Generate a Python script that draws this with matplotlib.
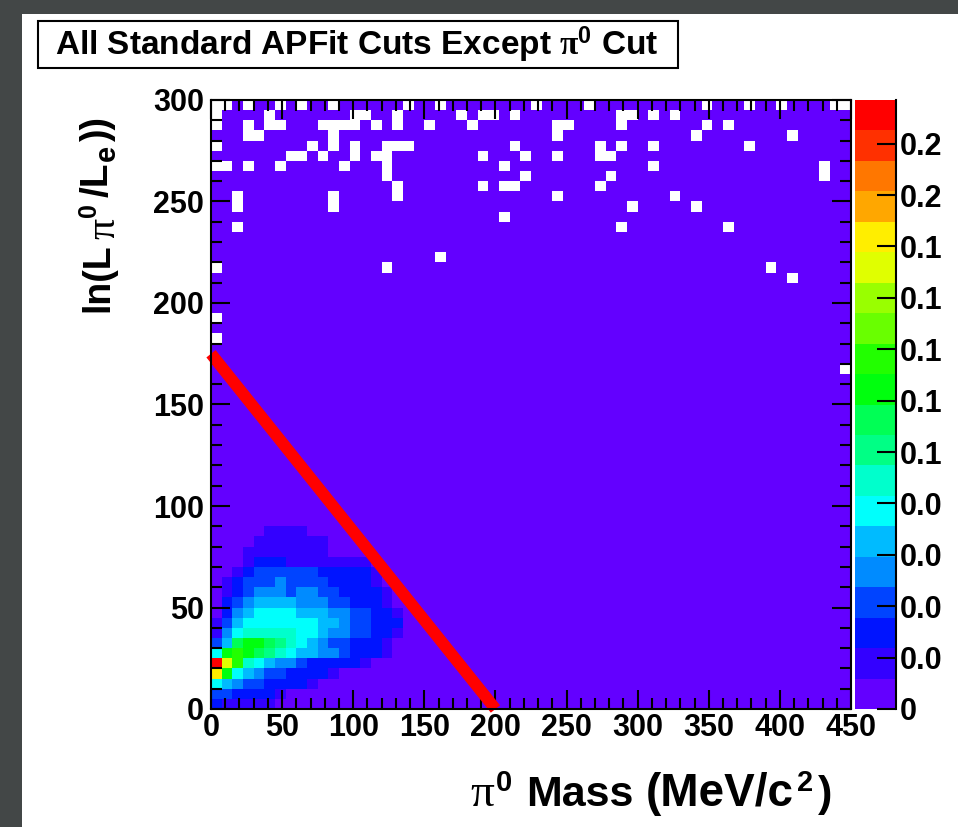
import colorsys
import numpy as np
import matplotlib
matplotlib.use('Agg')
import matplotlib.pyplot as plt
from matplotlib.colors import ListedColormap, BoundaryNorm
from matplotlib.patches import Rectangle
from matplotlib.ticker import MultipleLocator

# 60 x 60 bins, pi0 mass (MeV/c^2) vs ln(L_pi0/L_e)
x_edges = np.linspace(0, 450, 61)
y_edges = np.linspace(0, 300, 61)
z_max = 0.237
n_levels = 20

# palette level of each bin in the low-mass corner, bottom row first
# (base-20 digits: 0 = lowest band ... j = top band)
blob_rows = [
    "21111100000000000000",
    "33222210000000000000",
    "65433222210000000000",
    "fa654332222100000000",
    "jeb76544322222100000",
    "6aba9876554432221000",
    "359aa987654332221000",
    "14677777665443322100",
    "13566666665543322200",
    "02456666555443322100",
    "02345555444332221000",
    "01234443443322221000",
    "01233343333222210000",
    "00123333332222210000",
    "00012221111111100000",
    "00011111111000000000",
    "00001111111000000000",
    "00000111100000000000",
]

# empty bins: (column, row counted from the top)
empty_bins = [
    (0, 0), (1, 0), (3, 0), (6, 0), (8, 0), (11, 0), (18, 0), (21, 0), (30, 0),
    (35, 0), (46, 0), (50, 0), (53, 0), (58, 0), (59, 0),
    (0, 1), (5, 1), (13, 1), (14, 1), (17, 1), (23, 1), (25, 1), (26, 1), (28, 1),
    (38, 1), (39, 1), (41, 1), (43, 1),
    (0, 2), (3, 2), (5, 2), (6, 2), (10, 2), (11, 2), (12, 2), (13, 2), (15, 2),
    (17, 2), (20, 2), (24, 2), (32, 2), (33, 2), (38, 2), (46, 2), (48, 2),
    (3, 3), (4, 3), (11, 3), (32, 3), (45, 3), (54, 3),
    (0, 4), (9, 4), (11, 4), (13, 4), (16, 4), (17, 4), (18, 4), (28, 4), (36, 4),
    (38, 4), (41, 4), (50, 4),
    (7, 5), (8, 5), (10, 5), (13, 5), (15, 5), (16, 5), (25, 5), (29, 5), (32, 5),
    (36, 5), (37, 5),
    (0, 6), (1, 6), (3, 6), (6, 6), (12, 6), (16, 6), (27, 6), (41, 6), (57, 6),
    (16, 7), (29, 7), (37, 7), (57, 7),
    (17, 8), (25, 8), (27, 8), (28, 8), (36, 8),
    (2, 9), (11, 9), (17, 9), (32, 9), (43, 9),
    (2, 10), (11, 10), (39, 10), (45, 10),
    (27, 11),
    (2, 12), (38, 12), (48, 12),
    (21, 15),
    (0, 16), (16, 16), (52, 16),
    (54, 17),
    (0, 21),
    (0, 23),
    (59, 26),
]

# the cut line
cut_x = [0, 200]
cut_y = [175, 0]

x_ticks = [0, 50, 100, 150, 200, 250, 300, 350, 400, 450]
y_ticks = [0, 50, 100, 150, 200, 250, 300]
cbar_ticks = [0, 0.02, 0.04, 0.06, 0.08, 0.10, 0.12, 0.14, 0.16, 0.18, 0.20, 0.22]
cbar_labels = ['0', '0.0', '0.0', '0.0', '0.0', '0.1', '0.1', '0.1', '0.1', '0.1',
               '0.2', '0.2']

title = r"All Standard APFit Cuts Except $\mathrm{\pi}^{\mathbf{0}}$ Cut"
# axis title pieces: text, size, family, weight, baseline shift px, gap px
xlabel_parts = [
    ("\u03c0", 34, 'Liberation Serif', 'normal', 0, 0),
    ("0", 21, 'Liberation Sans', 'bold', 15, 2),
    ("Mass", 31, 'Liberation Sans', 'bold', 0, 14),
    ("(MeV/c", 33, 'Liberation Sans', 'bold', 0, 12),
    ("2", 21, 'Liberation Sans', 'bold', 15, 3),
    (")", 31, 'Liberation Sans', 'bold', 0, 5),
]
ylabel_parts = [
    ("ln(L", 27, 'Liberation Sans', 'bold', 0, 0),
    ("\u03c0", 30, 'Liberation Serif', 'normal', -6, 4),
    ("0", 18, 'Liberation Sans', 'bold', 12, 1),
    ("/L", 28, 'Liberation Sans', 'bold', 0, 6),
    ("e", 21, 'Liberation Sans', 'bold', -7, 2),
    ("))", 27, 'Liberation Sans', 'bold', 0, 3),
]

plt.rcParams['font.family'] = ['Liberation Sans', 'DejaVu Sans']
plt.rcParams['font.weight'] = 'bold'
plt.rcParams['mathtext.fontset'] = 'custom'
plt.rcParams['mathtext.rm'] = 'Liberation Serif'
plt.rcParams['mathtext.it'] = 'Liberation Serif:italic'
plt.rcParams['mathtext.bf'] = 'Liberation Sans:bold'

# ROOT "pretty" palette hues picked for 20 contours
hues = [263.2, 252, 235.2, 224, 207.2, 196, 179.2, 168, 151.2, 140, 123.2, 112,
        95.2, 84, 67.2, 56, 39.2, 28, 11.2, 0]
colors = [colorsys.hls_to_rgb(h / 360.0, 0.5, 1.0) for h in hues]
cmap = ListedColormap(colors)
cmap.set_bad('white')
norm = BoundaryNorm(np.linspace(0, z_max, n_levels + 1), n_levels)

levels = np.zeros((60, 60), dtype=int)
for r, row in enumerate(blob_rows):
    for c, ch in enumerate(row):
        levels[r, c] = int(ch, 20)
z = (levels + 0.5) * z_max / n_levels
for c, t in empty_bins:
    z[59 - t, c] = 0
z = np.ma.masked_equal(z, 0)

W, H = 958, 827
fig = plt.figure(figsize=(W / 100, H / 100), dpi=100)
fig.patch.set_facecolor('#434747')
fig.add_artist(Rectangle((22 / W, 0), 1, 1 - 14 / H, transform=fig.transFigure,
                         facecolor='white', edgecolor='none', zorder=-5))

ax = fig.add_axes([211 / W, 1 - 709 / H, 640 / W, 609 / H])
cax = fig.add_axes([855 / W, 1 - 709 / H, 41 / W, 609 / H])

mesh = ax.pcolormesh(x_edges, y_edges, z, cmap=cmap, norm=norm)
ax.plot(cut_x, cut_y, color='#ff0000', lw=8.5, solid_capstyle='butt', clip_on=False)

ax.set_xlim(0, 450)
ax.set_ylim(0, 300)
ax.set_xticks(x_ticks)
ax.set_yticks(y_ticks)
ax.xaxis.set_minor_locator(MultipleLocator(10))
ax.yaxis.set_minor_locator(MultipleLocator(10))
ax.tick_params(which='both', direction='in', top=True, right=True, width=1.5,
               labelsize=22)
ax.tick_params(which='major', length=14)
ax.tick_params(which='minor', length=8)
ax.tick_params(axis='x', pad=3)
ax.tick_params(axis='y', pad=5)
for s in ax.spines.values():
    s.set_linewidth(1.5)

cbar = fig.colorbar(mesh, cax=cax, ticks=cbar_ticks)
cbar.ax.set_yticklabels(cbar_labels)
cbar.outline.set_visible(False)
cax.minorticks_off()
cax.tick_params(direction='in', length=14, width=1.5, labelsize=22, pad=3)
cax.plot([1, 1], [0, 1], transform=cax.transAxes, color='k', lw=1.5, clip_on=False)

# title box
fig.add_artist(Rectangle((38 / W, 1 - 68 / H), 640 / W, 47 / H, transform=fig.transFigure,
                         facecolor='white', edgecolor='black', lw=1.5))
fig.text(55 / W, 1 - 45 / H, title, ha='left', va='center', fontsize=24)

renderer = fig.canvas.get_renderer()


def draw_parts(parts, base, start, vertical):
    # lay out text pieces one after the other (upwards when vertical)
    pos = start
    for txt, size, fam, weight, shift, gap in parts:
        pos += gap
        if vertical:
            xy, rot = ((base - shift) / W, pos / H), 90
        else:
            xy, rot = (pos / W, (base + shift) / H), 0
        t = fig.text(xy[0], xy[1], txt, fontsize=size, family=fam, fontweight=weight,
                     rotation=rot, rotation_mode='anchor', ha='left', va='baseline')
        ext = t.get_window_extent(renderer)
        pos += ext.height if vertical else ext.width


draw_parts(xlabel_parts, 827 - 806, 470, vertical=False)
draw_parts(ylabel_parts, 108, 827 - 312, vertical=True)

fig.savefig('out.png', dpi=100, facecolor=fig.get_facecolor())
